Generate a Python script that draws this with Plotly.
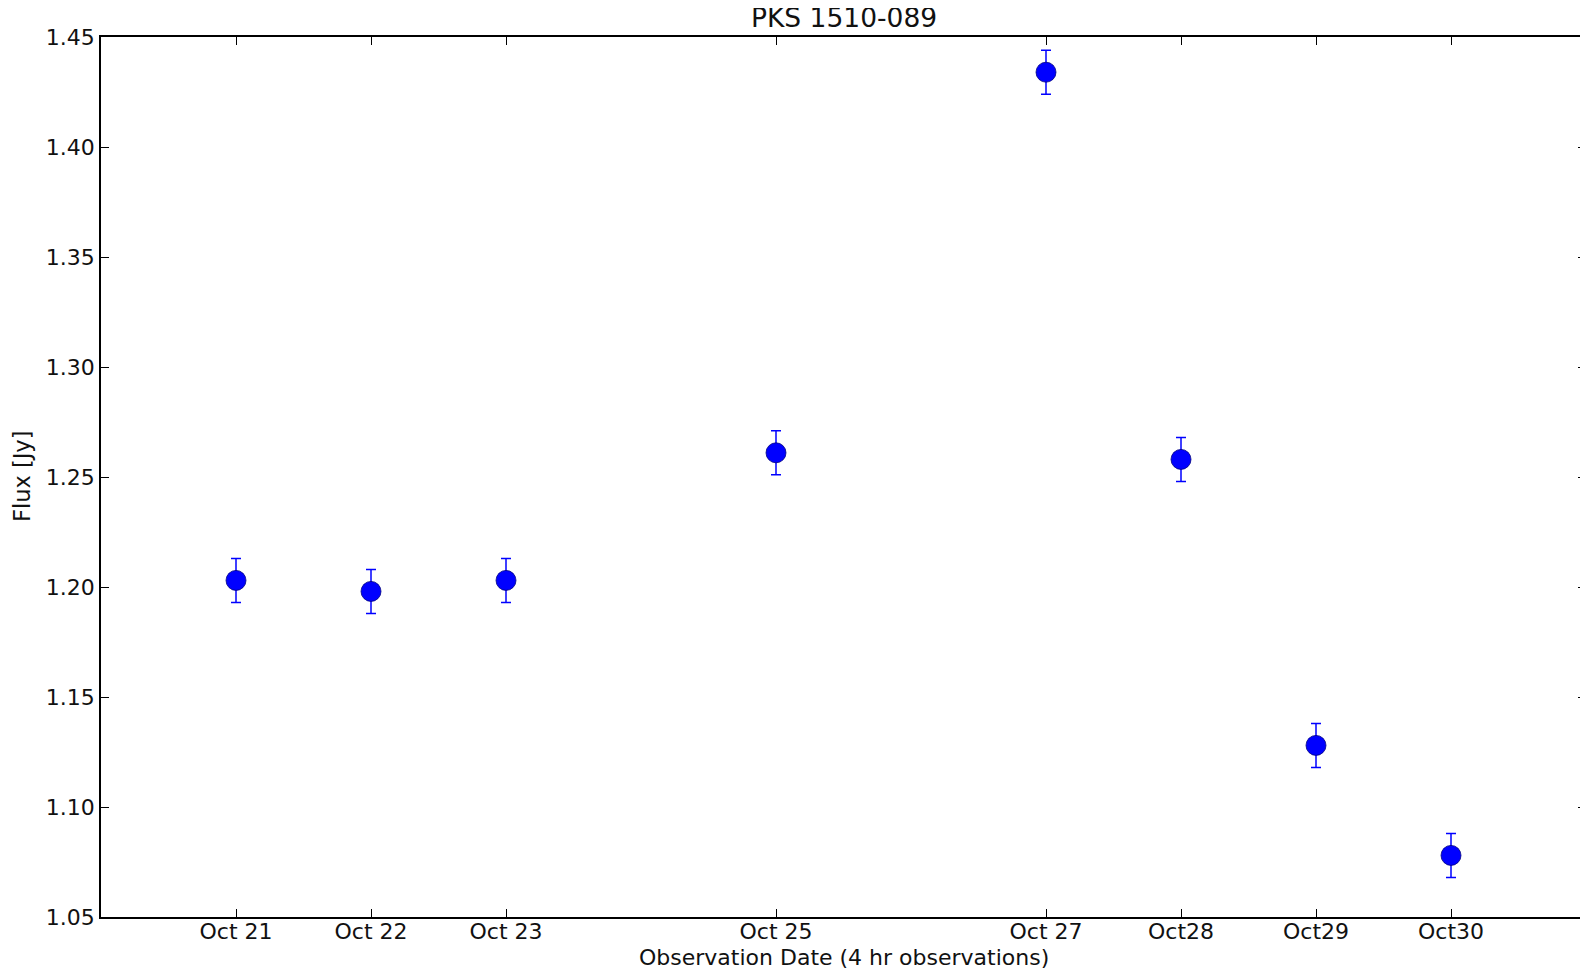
import plotly.graph_objects as go

# Data
day_numbers = [21, 22, 23, 25, 27, 28, 29, 30]
tick_labels = ["Oct 21", "Oct 22", "Oct 23", "Oct 25", "Oct 27", "Oct28", "Oct29", "Oct30"]
flux = [1.203, 1.198, 1.203, 1.261, 1.434, 1.258, 1.128, 1.078]
flux_err = [0.010, 0.010, 0.010, 0.010, 0.010, 0.010, 0.010, 0.010]
y_ticks = [1.05, 1.10, 1.15, 1.20, 1.25, 1.30, 1.35, 1.40, 1.45]

FONT = "DejaVu Sans"
TXT = "#111111"

fig = go.Figure()
fig.add_trace(go.Scatter(
    x=day_numbers, y=flux, mode="markers",
    marker=dict(color="#0000FF", size=20, line=dict(color="#000080", width=0.8)),
    error_y=dict(type="data", array=flux_err, visible=True, color="#0000FF",
                 thickness=1.5, width=5),
    showlegend=False,
))

axis_common = dict(showline=True, linecolor="black", linewidth=1.6, mirror="ticks",
                   ticks="inside", ticklen=8, tickwidth=1, tickcolor="black",
                   showgrid=False, zeroline=False,
                   tickfont=dict(family=FONT, size=22, color=TXT))

fig.update_xaxes(range=[20, 31], tickmode="array", tickvals=day_numbers,
                 ticktext=tick_labels, ticklabelstandoff=-6, **axis_common)
fig.update_yaxes(range=[1.05, 1.45], tickmode="array", tickvals=y_ticks,
                 ticktext=[f"{v:.2f}" for v in y_ticks], **axis_common)

fig.update_layout(
    width=1588, height=972,
    margin=dict(l=93, r=8, t=29, b=63, pad=0),
    plot_bgcolor="white", paper_bgcolor="white",
    font=dict(family=FONT, color=TXT),
    annotations=[
        dict(text="PKS 1510-089", x=0.5, y=1, xref="paper", yref="paper",
             xanchor="center", yanchor="bottom", yshift=3, borderpad=0, showarrow=False,
             font=dict(family=FONT, size=26.5, color=TXT)),
        dict(text="Observation Date (4 hr observations)", x=0.5, y=0, xref="paper", yref="paper",
             xanchor="center", yanchor="top", yshift=-27, borderpad=0, showarrow=False,
             font=dict(family=FONT, size=22, color=TXT)),
        dict(text="Flux [Jy]", x=0, y=0.5, xref="paper", yref="paper", textangle=-90,
             xanchor="center", yanchor="middle", xshift=-79, showarrow=False,
             font=dict(family=FONT, size=22.5, color=TXT)),
    ],
)

fig.write_html("out.html")
